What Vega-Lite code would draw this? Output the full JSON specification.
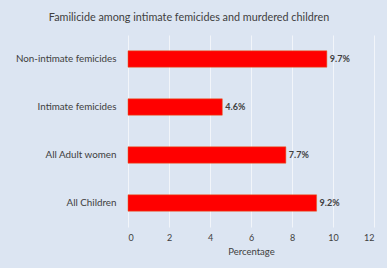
{
  "$schema": "https://vega.github.io/schema/vega-lite/v6.json",
  "autosize": {"type": "none"},
  "width": 246,
  "height": 192,
  "padding": {"left": 128, "top": 35, "right": 13, "bottom": 41},
  "background": "#dce5f2",
  "title": {
    "text": "Familicide among intimate femicides and murdered children",
    "font": "Lato",
    "fontSize": 10.8,
    "fontWeight": "normal",
    "color": "#404040",
    "anchor": "middle",
    "frame": "group",
    "dx": -62,
    "offset": 12
  },
  "data": {
    "values": [
      {"category": "Non-intimate femicides", "value": 9.7, "label": "9.7%"},
      {"category": "Intimate femicides", "value": 4.6, "label": "4.6%"},
      {"category": "All Adult women", "value": 7.7, "label": "7.7%"},
      {"category": "All  Children", "value": 9.2, "label": "9.2%"}
    ]
  },
  "encoding": {
    "y": {
      "field": "category",
      "type": "nominal",
      "sort": null,
      "scale": {"paddingInner": 0.66, "paddingOuter": 0.33},
      "axis": {
        "title": null,
        "ticks": false,
        "domain": false,
        "labelPadding": 12,
        "labelFont": "Lato",
        "labelFontSize": 9.8,
        "labelColor": "#404040"
      }
    },
    "x": {
      "field": "value",
      "type": "quantitative",
      "scale": {"domain": [0, 12]},
      "axis": {
        "title": "Percentage",
        "titleFont": "Lato",
        "titleFontSize": 9.5,
        "titleFontWeight": "normal",
        "titleColor": "#404040",
        "titlePadding": 4,
        "values": [0, 2, 4, 6, 8, 10, 12],
        "labelFont": "Lato",
        "labelFontSize": 9,
        "labelColor": "#404040",
        "labelPadding": 6,
        "domain": false,
        "ticks": false,
        "grid": true,
        "gridColor": "#f2f5fa",
        "gridWidth": 1
      }
    }
  },
  "layer": [
    {"mark": {"type": "bar", "color": "#ff0000", "stroke": "#e06020", "strokeWidth": 0.5}},
    {
      "mark": {"type": "text", "align": "left", "dx": 3, "font": "Lato", "fontSize": 9, "fontWeight": "bold", "color": "#404040"},
      "encoding": {"text": {"field": "label"}}
    }
  ],
  "config": {"view": {"stroke": null}}
}
